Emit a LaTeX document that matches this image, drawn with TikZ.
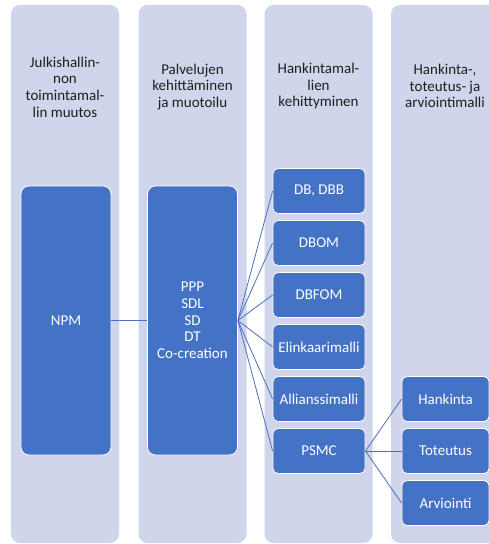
\documentclass[tikz,border=0pt]{standalone}
\usepackage{fontspec}
\setmainfont{Carlito}
\definecolor{lane}{HTML}{CFD5EA}
\definecolor{boxblue}{HTML}{4472C4}
\definecolor{linkblue}{HTML}{4A70BD}
\begin{document}
\begin{tikzpicture}[x=1pt,y=-1pt,
  lane/.style={fill=lane, draw=none, rounded corners=9pt, minimum width=108pt,
    minimum height=538pt, inner sep=0pt},
  head/.style={align=center, text=black!88, inner sep=0pt,
    font=\fontsize{15}{16.7}\selectfont},
  bigbox/.style={fill=boxblue, draw=white, line width=0.8pt, rounded corners=8pt,
    minimum width=90pt, minimum height=269pt, inner sep=0pt, align=center,
    text=white, font=\fontsize{15}{16.7}\selectfont},
  smallbox/.style={fill=boxblue, draw=white, line width=0.8pt, rounded corners=5pt,
    minimum height=45pt, inner sep=0pt, align=center,
    text=white, font=\fontsize{15}{16.7}\selectfont},
  link/.style={draw=linkblue, line width=0.8pt}]
\clip (0,0) rectangle (489,544);
\fill[white] (0,0) rectangle (489,544);

% four lanes
\node[lane] (lane1) at (65,274) {};
\node[lane] (lane2) at (192.5,274) {};
\node[lane] (lane3) at (318.5,274) {};
\node[lane] (lane4) at (445,274) {};

% lane headings
\node[head] (h1) at (65,87) {Julkishallin-\\non\\toimintamal-\\lin muutos};
\node[head] (h2) at (192.5,87) {Palvelujen\\kehittäminen\\ja muotoilu};
\node[head] (h3) at (318.5,86) {Hankintamal-\\lien\\kehittyminen};
\node[head] (h4) at (445,86) {Hankinta-,\\toteutus- ja\\arviointimalli};

% tall boxes
\node[bigbox] (npm) at (66,320.5) {NPM};
\node[bigbox] (ppp) at (192.5,320.5) {PPP\\SDL\\SD\\DT\\Co-creation};

% procurement models
\node[smallbox, minimum width=92pt] (db)    at (319,191) {DB, DBB};
\node[smallbox, minimum width=92pt] (dbom)  at (319,243) {DBOM};
\node[smallbox, minimum width=92pt] (dbfom) at (319,295) {DBFOM};
\node[smallbox, minimum width=92pt] (elin)  at (319,347) {Elinkaarimalli};
\node[smallbox, minimum width=92pt] (alli)  at (319,399) {Allianssimalli};
\node[smallbox, minimum width=92pt] (psmc)  at (319,451) {PSMC};

% PSMC phases
\node[smallbox, minimum width=87pt] (hank) at (445.5,399) {Hankinta};
\node[smallbox, minimum width=87pt] (tote) at (445.5,451) {Toteutus};
\node[smallbox, minimum width=87pt] (arvi) at (445.5,503) {Arviointi};

% connectors
\draw[link] (npm.east) -- (ppp.west);
\foreach \t in {db,dbom,dbfom,elin,alli,psmc}
  \draw[link] (ppp.east) -- (\t.west);
\foreach \t in {hank,tote,arvi}
  \draw[link] (psmc.east) -- (\t.west);
\end{tikzpicture}
\end{document}
